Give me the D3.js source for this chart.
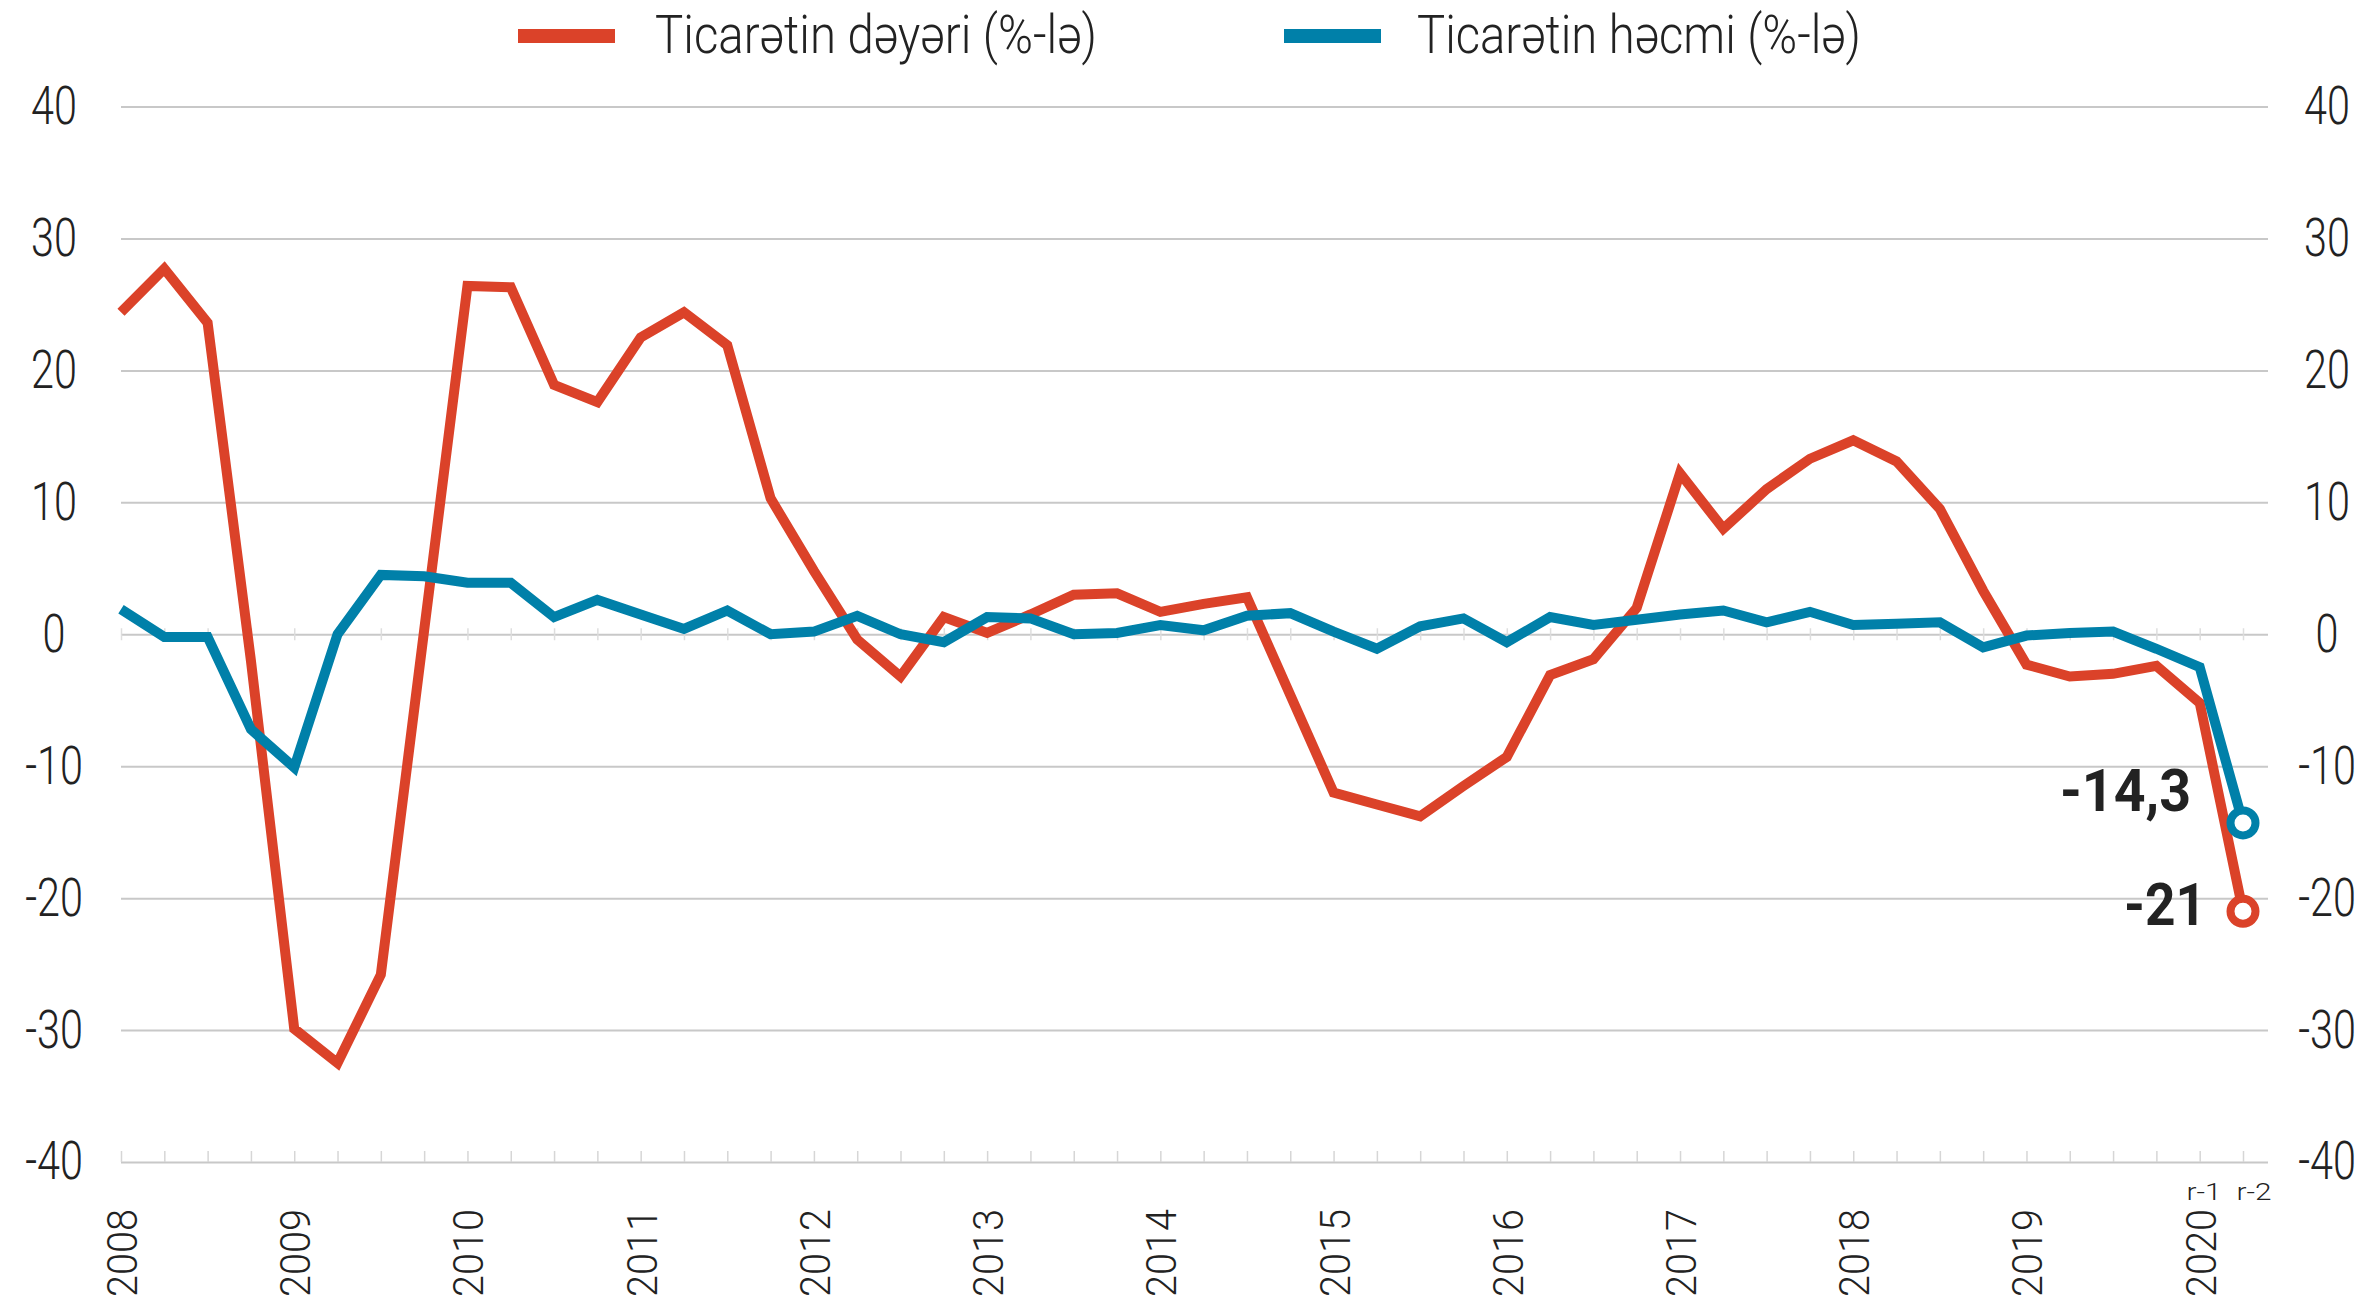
<!DOCTYPE html>
<html>
<head>
<meta charset="utf-8">
<script src="https://cdn.jsdelivr.net/npm/d3@7/dist/d3.min.js"></script>
<style>
  html, body { margin: 0; background: #fff; }
  svg { display: block; }
</style>
</head>
<body>
<svg id="chart" width="2376" height="1304"></svg>
<script>
// quarterly, 2008 Q1 .. 2020 Q2
const years = [2008, 2009, 2010, 2011, 2012, 2013, 2014, 2015, 2016, 2017, 2018, 2019, 2020];
const lastNotes = ['r-1', 'r-2'];   // 2020 Q1, Q2
const yTicks = [-40, -30, -20, -10, 0, 10, 20, 30, 40];

// Ticarətin dəyəri (%-lə)
const tradeValue = [
  24.4, 27.7, 23.6, -2.0, -29.9, -32.5, -25.8, 0.3,
  26.4, 26.3, 18.9, 17.6, 22.5, 24.4, 21.9, 10.3,
  4.8, -0.4, -3.2, 1.3, 0.1, 1.5, 3.0, 3.1,
  1.7, 2.3, 2.8, -4.6, -12.0, -12.9, -13.8, -11.5,
  -9.3, -3.1, -1.9, 2.0, 12.2, 8.0, 11.0, 13.3,
  14.7, 13.1, 9.5, 3.3, -2.3, -3.2, -3.0, -2.4,
  -5.2, -21
];
// Ticarətin həcmi (%-lə)
const tradeVolume = [
  1.9, -0.2, -0.2, -7.2, -10.1, 0.0, 4.5, 4.4,
  3.9, 3.9, 1.3, 2.6, 1.5, 0.4, 1.8, 0.0,
  0.2, 1.4, 0.0, -0.6, 1.3, 1.2, 0.0, 0.1,
  0.7, 0.3, 1.4, 1.6, 0.2, -1.1, 0.6, 1.2,
  -0.6, 1.3, 0.7, 1.1, 1.5, 1.8, 0.9, 1.7,
  0.7, 0.8, 0.9, -1.0, -0.1, 0.1, 0.2, -1.1,
  -2.5, -14.3
];

const seriesNames = ['Ticarətin dəyəri (%-lə)', 'Ticarətin həcmi (%-lə)'];
const seriesColors = ['#db4229', '#0080a9'];
const endLabels = ['-21', '-14,3'];

const svg = d3.select('#chart');
const n = tradeValue.length;
const idx = d3.range(n);

const x = d3.scaleLinear().domain([0, n - 1]).range([121, 2243]);
const y = d3.scaleLinear().domain([-40, 40]).range([1162, 106.5]);
const gridRight = 2268;

const SQ = 0.78; // horizontal squeeze to mimic the condensed face
const FONT = 'Roboto, sans-serif';

/* ── grid ── */
const grid = svg.append('g').attr('transform', `translate(${x(0)},0)`)
  .call(d3.axisLeft(y).tickValues(yTicks).tickSize(-(gridRight - x(0))).tickFormat(''));
grid.select('.domain').remove();
grid.selectAll('line').attr('stroke', '#c8c8c8').attr('stroke-width', 2);

/* ── quarter ticks on the bottom line and the zero line ── */
const qb = svg.append('g').attr('transform', `translate(0,${y(-40)})`)
  .call(d3.axisTop(x).tickValues(idx).tickSize(11).tickFormat(''));
qb.select('.domain').remove();
qb.selectAll('line').attr('stroke', '#d6d6d6').attr('stroke-width', 1.5);

[d3.axisTop, d3.axisBottom].forEach(ax => {
  const g = svg.append('g').attr('transform', `translate(0,${y(0)})`)
    .call(ax(x).tickValues(idx).tickSize(6).tickFormat(''));
  g.select('.domain').remove();
  g.selectAll('line').attr('stroke', '#dedede').attr('stroke-width', 1.5);
});

/* ── y labels, both sides ── */
function yLabels(axis, cx) {
  const g = svg.append('g').attr('transform', `translate(${cx},0)`)
    .call(axis(y).tickValues(yTicks).tickSize(0).tickPadding(0).tickFormat(d => String(d)));
  g.select('.domain').remove();
  g.selectAll('text')
    .attr('x', 0)
    .attr('text-anchor', 'middle')
    .attr('transform', `scale(${SQ},1)`)
    .attr('fill', '#222')
    .style('font-family', FONT)
    .style('font-weight', 300)
    .style('font-size', '53px');
}
yLabels(d3.axisLeft, 54);
yLabels(d3.axisRight, 2327);

/* ── year labels ── */
const yr = svg.append('g').attr('transform', 'translate(0,1209)')
  .call(d3.axisBottom(x).tickValues(years.map((_, i) => i * 4)).tickSize(0)
    .tickFormat(d => years[d / 4]));
yr.select('.domain').remove();
yr.selectAll('text')
  .attr('x', 0).attr('y', 0).attr('dy', '0.36em')
  .attr('text-anchor', 'end')
  .attr('transform', 'rotate(-90)')
  .attr('textLength', 88).attr('lengthAdjust', 'spacingAndGlyphs')
  .attr('fill', '#222')
  .style('font-family', FONT)
  .style('font-weight', 300)
  .style('font-size', '43px');

// r-1 / r-2 under the last two quarters
const notePos = [2204, 2254];
svg.append('g').selectAll('text').data(lastNotes).join('text')
  .attr('x', (d, i) => notePos[i])
  .attr('y', 1200)
  .attr('text-anchor', 'middle')
  .attr('textLength', 35).attr('lengthAdjust', 'spacingAndGlyphs')
  .attr('fill', '#222')
  .style('font-family', FONT)
  .style('font-weight', 300)
  .style('font-size', '24px')
  .text(d => d);

/* ── lines ── */
const line = d3.line().x((d, i) => x(i)).y(d => y(d));
const allSeries = [tradeValue, tradeVolume];

svg.append('g').selectAll('path').data(allSeries).join('path')
  .attr('d', line)
  .attr('fill', 'none')
  .attr('stroke', (d, i) => seriesColors[i])
  .attr('stroke-width', 10)
  .attr('stroke-linejoin', 'miter')
  .attr('stroke-miterlimit', 3);

// end markers
svg.append('g').selectAll('circle').data(allSeries).join('circle')
  .attr('cx', x(n - 1))
  .attr('cy', d => y(d[n - 1]))
  .attr('r', 12.5)
  .attr('fill', '#fff')
  .attr('stroke', (d, i) => seriesColors[i])
  .attr('stroke-width', 8);

// end value labels
const endPos = [{ right: 2206, len: 82, dy: 14 }, { right: 2191, len: 131, dy: -12 }];
svg.append('g').selectAll('text').data(allSeries).join('text')
  .attr('x', (d, i) => endPos[i].right)
  .attr('y', (d, i) => y(d[n - 1]) + endPos[i].dy)
  .attr('text-anchor', 'end')
  .attr('textLength', (d, i) => endPos[i].len)
  .attr('lengthAdjust', 'spacingAndGlyphs')
  .attr('fill', '#222')
  .style('font-family', FONT)
  .style('font-weight', 700)
  .style('font-size', '60px')
  .text((d, i) => endLabels[i]);

/* ── legend ── */
const legendPos = [{ sx: 518, tx: 655, len: 442 }, { sx: 1284, tx: 1417, len: 444 }];
const lg = svg.append('g').selectAll('g').data(seriesNames).join('g');
lg.append('rect')
  .attr('x', (d, i) => legendPos[i].sx).attr('y', 29)
  .attr('width', 97).attr('height', 14)
  .attr('fill', (d, i) => seriesColors[i]);
lg.append('text')
  .attr('x', (d, i) => legendPos[i].tx).attr('y', 53)
  .attr('textLength', (d, i) => legendPos[i].len)
  .attr('lengthAdjust', 'spacingAndGlyphs')
  .attr('fill', '#222')
  .style('font-family', FONT)
  .style('font-weight', 300)
  .style('font-size', '53px')
  .text(d => d);
</script>
</body>
</html>
